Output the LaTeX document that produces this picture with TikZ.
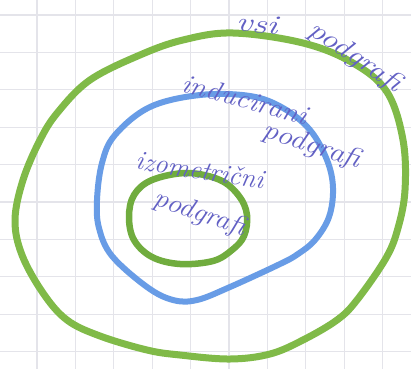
\documentclass[tikz,border=0pt]{standalone}
\usepackage{fontspec}
\begin{document}
\begin{tikzpicture}[x=1pt,y=-1pt,
  gridline/.style={draw=gridgray,line width=1.1pt},
  ring/.style={line width=#1,line cap=round,line join=round},
  hand/.style={text=ink,font=\fontsize{27}{29}\selectfont\itshape,inner sep=0pt}]
\definecolor{gridgray}{RGB}{228,228,234}
\definecolor{outergreen}{RGB}{128,186,72}
\definecolor{innergreen}{RGB}{112,172,62}
\definecolor{penblue}{RGB}{104,156,230}
\definecolor{ink}{RGB}{98,96,196}
\useasboundingbox (0,0) rectangle (411,369);
\fill[white] (0,0) rectangle (411,369);
% grid paper
\foreach \i in {0,...,10} {\draw[gridline] ({-1.4+38.4*\i},0) -- ({-1.4+38.4*\i},369);}
\foreach \j in {0,...,9} {\draw[gridline] (0,{15+37.4*\j}) -- (411,{15+37.4*\j});}
% outer ring
\draw[ring=7pt,outergreen] plot[smooth cycle,tension=0.6] coordinates {
 (15,220) (23,180) (40,140) (58,112) (90,80) (140,55) (183,40) (233,33) (303,43)
 (353,63) (387,92) (403,140) (405,190) (398,228) (386,258) (357,300) (337,320)
 (303,340) (270,354) (230,359) (180,355) (147,350) (100,336) (67,320) (43,293) (22,255)};
% blue ring
\draw[ring=6pt,penblue] plot[smooth cycle,tension=0.6] coordinates {
 (97,200) (102,163) (115,135) (150,107) (200,95) (250,96) (283,108) (310,130)
 (327,160) (333,188) (329,217) (315,240) (298,254) (280,264) (230,287) (197,300)
 (173,300) (147,287) (112,256) (99,228)};
% inner ring
\draw[ring=6.5pt,innergreen] plot[smooth cycle,tension=0.6] coordinates {
 (129,217) (134,195) (152,180) (187,173) (220,180) (239,196) (247,215) (244,236)
 (232,250) (213,261) (180,264) (152,257) (134,240)};
% labels
\node[hand,rotate=-5,xscale=1.35] (vsi) at (257,24) {vsi};
\node[hand,rotate=-34,xscale=1.2] (pg1) at (355,57) {podgrafi};
\node[hand,rotate=-15,xscale=1.1] (ind) at (245,99) {inducirani};
\node[hand,rotate=-18,xscale=1.15] (pg2) at (312,146) {podgrafi};
\node[hand,rotate=-9] (izo) at (200,170) {izometrični};
\node[hand,rotate=-19,xscale=1.08] (pg3) at (200,214) {podgrafi};
\end{tikzpicture}
\end{document}
